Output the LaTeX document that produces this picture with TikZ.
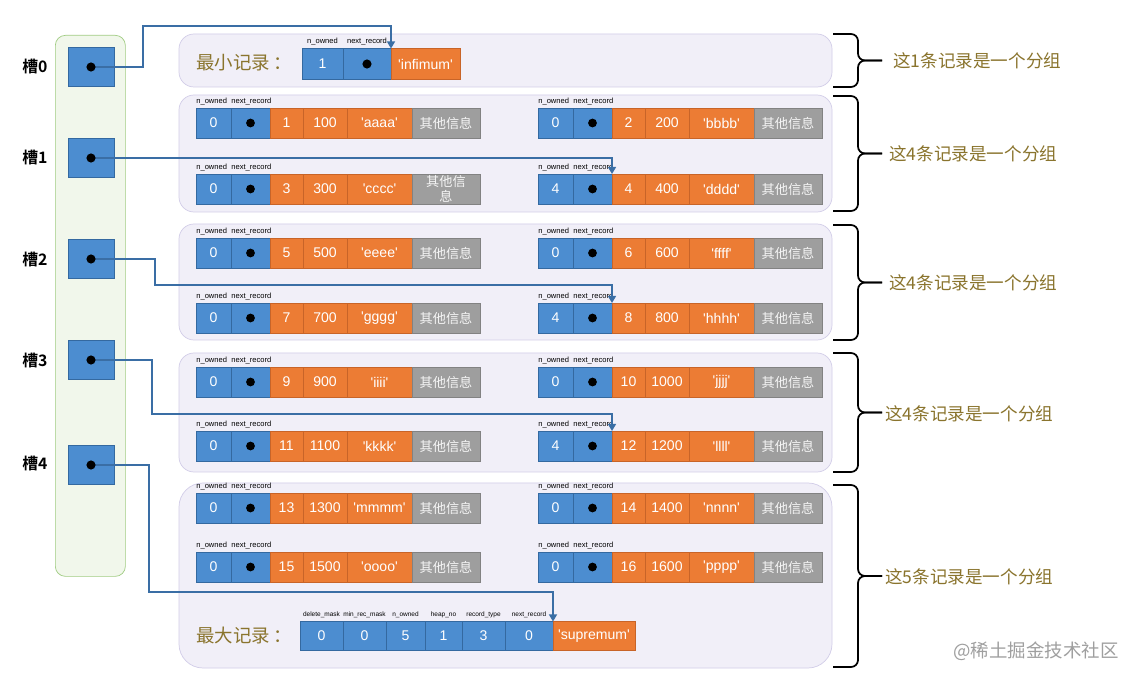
\documentclass[tikz,border=0pt]{standalone}
\usepackage{fontspec}
\setmainfont{Liberation Sans}
\newfontfamily\cjk{Noto Sans CJK SC}[BoldFont={Noto Sans CJK SC Bold}]
\usetikzlibrary{positioning, arrows.meta}

\newlength\unitpx
\setlength\unitpx{0.02cm}

\definecolor{cellblue}{RGB}{76,141,208}
\definecolor{blueline}{RGB}{52,105,160}
\definecolor{cellorange}{RGB}{236,124,52}
\definecolor{orangeline}{RGB}{200,100,40}
\definecolor{cellgray}{RGB}{158,158,158}
\definecolor{grayline}{RGB}{130,130,130}
\definecolor{grpfill}{RGB}{241,239,248}
\definecolor{grpline}{RGB}{210,205,232}
\definecolor{colfill}{RGB}{241,247,235}
\definecolor{colline}{RGB}{160,204,130}
\definecolor{linkblue}{RGB}{58,110,165}
\definecolor{goldtext}{RGB}{138,116,45}

\newcommand{\q}[1]{\textquotesingle#1\textquotesingle}

% one record: name, x, y, n_owned, key, value, string
\newcommand{\rec}[8][其他信息]{%
  \node[cellb, minimum width=35\unitpx, anchor=west] (#2o) at (#3,#4) {#5};
  \node[cellb, minimum width=39\unitpx, right=0pt of #2o] (#2n) {};
  \fill (#2n) circle[radius=2.5pt];
  \node[cello, minimum width=33\unitpx, right=0pt of #2n] (#2k) {#6};
  \node[cello, minimum width=44\unitpx, right=0pt of #2k] (#2v) {#7};
  \node[cello, minimum width=65\unitpx, right=0pt of #2v] (#2s) {\q{#8}};
  \node[cellg, right=0pt of #2s] (#2x) {#1};
  \node[tag, anchor=south west, yshift=1.5pt] (#2lo) at (#2o.north west) {n\_owned};
  \node[tag, anchor=south west, yshift=1.5pt] (#2ln) at (#2n.north west) {next\_record};
}

\tikzset{
  cell/.style={minimum height=30\unitpx, inner sep=0pt, outer sep=0pt, text=white,
    font=\fontsize{8}{9}\selectfont},
  cellb/.style={cell, draw=blueline, fill=cellblue},
  cello/.style={cell, draw=orangeline, fill=cellorange},
  cellg/.style={cell, draw=grayline, fill=cellgray, minimum width=68\unitpx, text=white!92!gray,
    font=\cjk\fontsize{7.5}{8.5}\selectfont, align=center},
  tag/.style={inner sep=0pt, font=\fontsize{4.3}{5}\selectfont},
  stag/.style={tag, font=\fontsize{3.7}{4.5}\selectfont},
  grp/.style={draw=grpline, fill=grpfill, rounded corners=15\unitpx, inner sep=0pt, outer sep=0pt,
    anchor=north west, minimum width=653\unitpx},
  slot/.style={draw=blueline, fill=cellblue, minimum width=46\unitpx, minimum height=39\unitpx, inner sep=0pt},
  slotlabel/.style={font=\cjk\bfseries\fontsize{9}{10}\selectfont},
  link/.style={draw=linkblue, line width=0.9pt, -{Triangle[length=4pt, width=4.5pt]}},
  gbrace/.style={draw=black, line width=1pt, rounded corners=7\unitpx},
  grplabel/.style={text=goldtext, font=\cjk\fontsize{10}{12}\selectfont, anchor=west, inner sep=0pt},
  minmax/.style={text=goldtext, font=\cjk\fontsize{10.5}{12}\selectfont, inner sep=0pt},
}

\begin{document}
\begin{tikzpicture}[x=0.02cm, y=-0.02cm]
  \useasboundingbox[fill=white] (0,0) rectangle (1137,682);

  % slot column
  \node[draw=colline, fill=colfill, rounded corners=10\unitpx, minimum width=70\unitpx, minimum height=541\unitpx,
    anchor=north west, inner sep=0pt] (col) at (55,35) {};
  \node[slot] (s0) at (91,67) {};
  \node[slot] (s1) at (91,158) {};
  \node[slot] (s2) at (91,259) {};
  \node[slot] (s3) at (91,360) {};
  \node[slot] (s4) at (91,465) {};
  \node[slotlabel] (l0) at (35,67) {槽0};
  \node[slotlabel] (l1) at (35,158) {槽1};
  \node[slotlabel] (l2) at (35,260) {槽2};
  \node[slotlabel] (l3) at (35,361) {槽3};
  \node[slotlabel] (l4) at (35,464) {槽4};

  % groups
  \node[grp, minimum height=53\unitpx] (g0) at (179,34) {};
  \node[grp, minimum height=117\unitpx] (g1) at (179,95) {};
  \node[grp, minimum height=116\unitpx] (g2) at (179,224) {};
  \node[grp, minimum height=119\unitpx] (g3) at (179,353) {};
  \node[grp, minimum height=185\unitpx, rounded corners=24\unitpx] (g4) at (179,483) {};

  % infimum
  \node[minmax] (minl) at (244,63) {最小记录\,：};
  \node[cellb, minimum width=41\unitpx, minimum height=31\unitpx, anchor=west] (infO) at (302,64) {1};
  \node[cellb, minimum width=48\unitpx, minimum height=31\unitpx, right=0pt of infO] (infN) {};
  \node[cello, minimum width=69\unitpx, minimum height=31\unitpx, right=0pt of infN] (infS) {\q{infimum}};
  \node[tag, above=2pt of infO] (infLo) {n\_owned};
  \node[tag, above=2pt of infN] (infLn) {next\_record};

  % user records
  \rec{r1}{196}{123}{0}{1}{100}{aaaa}
  \rec{r2}{538}{123}{0}{2}{200}{bbbb}
  \rec[其他信\\息]{r3}{196}{189}{0}{3}{300}{cccc}
  \rec{r4}{538}{189}{4}{4}{400}{dddd}
  \rec{r5}{196}{253}{0}{5}{500}{eeee}
  \rec{r6}{538}{253}{0}{6}{600}{ffff}
  \rec{r7}{196}{318}{0}{7}{700}{gggg}
  \rec{r8}{538}{318}{4}{8}{800}{hhhh}
  \rec{r9}{196}{382}{0}{9}{900}{iiii}
  \rec{r10}{538}{382}{0}{10}{1000}{jjjj}
  \rec{r11}{196}{446}{0}{11}{1100}{kkkk}
  \rec{r12}{538}{446}{4}{12}{1200}{llll}
  \rec{r13}{196}{508}{0}{13}{1300}{mmmm}
  \rec{r14}{538}{508}{0}{14}{1400}{nnnn}
  \rec{r15}{196}{567}{0}{15}{1500}{oooo}
  \rec{r16}{538}{567}{0}{16}{1600}{pppp}

  % supremum
  \node[minmax] (maxl) at (244,636) {最大记录\,：};
  \node[cellb, minimum width=43\unitpx, minimum height=29\unitpx, anchor=west] (supA) at (300,636) {0};
  \node[cellb, minimum width=43\unitpx, minimum height=29\unitpx, right=0pt of supA] (supB) {0};
  \node[cellb, minimum width=39\unitpx, minimum height=29\unitpx, right=0pt of supB] (supC) {5};
  \node[cellb, minimum width=37\unitpx, minimum height=29\unitpx, right=0pt of supC] (supD) {1};
  \node[cellb, minimum width=43\unitpx, minimum height=29\unitpx, right=0pt of supD] (supE) {3};
  \node[cellb, minimum width=48\unitpx, minimum height=29\unitpx, right=0pt of supE] (supN) {0};
  \node[cello, minimum width=82\unitpx, minimum height=29\unitpx, right=0pt of supN] (supS) {\q{supremum}};
  \node[stag, above=2pt of supA] (supLa) {delete\_mask};
  \node[stag, above=2pt of supB] (supLb) {min\_rec\_mask};
  \node[stag, above=2pt of supC] (supLc) {n\_owned};
  \node[stag, above=2pt of supD] (supLd) {heap\_no};
  \node[stag, above=2pt of supE] (supLe) {record\_type};
  \node[stag, above=2pt of supN] (supLn) {next\_record};

  % slot pointers
  \coordinate (b0) at (143,26);
  \coordinate (b2) at (155,285);
  \coordinate (b3) at (152,414);
  \coordinate (b4) at (149,592);
  \draw[link] (s0.center) -| (b0) -| (infN.north east);
  \draw[link] (s1.center) -| (r4n.north east);
  \draw[link] (s2.center) -| (b2) -| (r8n.north east);
  \draw[link] (s3.center) -| (b3) -| (r12n.north east);
  \draw[link] (s4.center) -| (b4) -| (supN.north east);
  \foreach \s in {s0,s1,s2,s3,s4}
    \fill (\s) circle[radius=2.6pt];
  \fill (infN) circle[radius=2.6pt];

  % braces and labels
  \draw[gbrace] (833,34) -- (858,34) -- (858,60.5) -- (882,60.5);
  \draw[gbrace] (833,87) -- (858,87) -- (858,60.5) -- (882,60.5);
  \node[grplabel] (t0) at (893,61) {这1条记录是一个分组};
  \draw[gbrace] (833,96) -- (858,96) -- (858,153.5) -- (882,153.5);
  \draw[gbrace] (833,211) -- (858,211) -- (858,153.5) -- (882,153.5);
  \node[grplabel] (t1) at (889,154) {这4条记录是一个分组};
  \draw[gbrace] (833,225) -- (858,225) -- (858,282.5) -- (882,282.5);
  \draw[gbrace] (833,340) -- (858,340) -- (858,282.5) -- (882,282.5);
  \node[grplabel] (t2) at (889,283) {这4条记录是一个分组};
  \draw[gbrace] (833,353) -- (858,353) -- (858,412.5) -- (882,412.5);
  \draw[gbrace] (833,472) -- (858,472) -- (858,412.5) -- (882,412.5);
  \node[grplabel] (t3) at (885,414) {这4条记录是一个分组};
  \draw[gbrace] (833,485) -- (858,485) -- (858,576) -- (882,576);
  \draw[gbrace] (833,667) -- (858,667) -- (858,576) -- (882,576);
  \node[grplabel] (t4) at (885,577) {这5条记录是一个分组};

  \node[text=gray!75, font=\cjk\fontsize{10.5}{12}\selectfont] (wm) at (1036,651) {@稀土掘金技术社区};
\end{tikzpicture}
\end{document}
